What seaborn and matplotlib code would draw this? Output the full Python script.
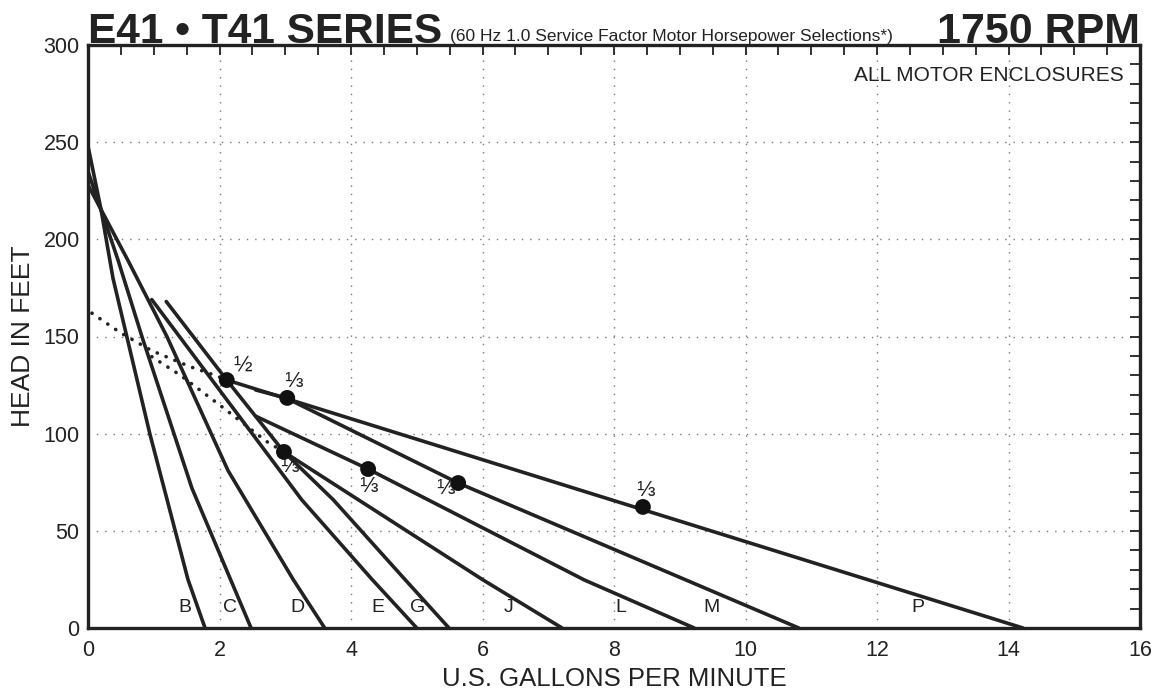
import matplotlib
matplotlib.use("Agg")
import matplotlib.pyplot as plt
from matplotlib.ticker import MultipleLocator
import seaborn as sns
import pandas as pd
import numpy as np

# pump curves (gpm, head in feet)
b_gpm = [0, 0.2, 0.38, 0.94, 1.52, 1.78]
b_head = [248, 215, 180, 100, 25, 0]
c_gpm = [0, 0.46, 0.82, 1.58, 2.48]
c_head = [235, 189, 150, 72, 0]
d_gpm = [0, 0.61, 1.2, 2.13, 3.12, 3.6]
d_head = [228, 189, 150, 81, 25, 0]
e_gpm = [0.97, 3.25, 4.32, 5.0]
e_head = [169, 66, 25, 0]
g_gpm = [1.19, 2.11, 2.98, 3.73, 4.82, 5.49]
g_head = [168, 127.6, 90.6, 66, 25, 0]
j_gpm = [2.98, 6.01, 7.21]
j_head = [90.6, 24.7, 0]
l_gpm = [2.55, 4.26, 7.55, 9.22]
l_head = [109, 81.8, 24.7, 0]
m_gpm = [2.55, 3.01, 5.63, 10.81]
m_head = [122.5, 118.4, 74.6, 0]
p_gpm = [2.11, 14.22]
p_head = [127.6, 0]

curve_names = ["B", "C", "D", "E", "G", "J", "L", "M", "P"]
curve_gpm = [b_gpm, c_gpm, d_gpm, e_gpm, g_gpm, j_gpm, l_gpm, m_gpm, p_gpm]
curve_head = [b_head, c_head, d_head, e_head, g_head, j_head, l_head, m_head, p_head]

# letter labels along the bottom
letter_x = [1.48, 2.16, 3.19, 4.41, 5.02, 6.4, 8.1, 9.49, 12.62]
letter_y = 10.8

# motor horsepower limit lines (dotted)
half_hp_gpm = [0.06, 0.49, 0.97, 1.55, 1.96, 2.11]
half_hp_head = [162, 152, 142.7, 134.5, 129.7, 127.6]
third_hp_gpm = [0.97, 1.4, 2.0, 2.72, 2.98]
third_hp_head = [139.6, 130.2, 114.8, 95.9, 90.6]

# horsepower change points
hp_gpm = [2.11, 3.03, 2.98, 4.26, 5.63, 8.44]
hp_head = [127.6, 118.4, 90.6, 81.8, 74.6, 62.3]
hp_text = ["½", "⅓", "⅓", "⅓", "⅓", "⅓"]
hp_text_x = [2.35, 3.12, 3.06, 4.26, 5.43, 8.47]
hp_text_y = [135, 127, 83, 73, 72, 71]

sns.set_style("white")
plt.rcParams["font.family"] = ["Liberation Sans", "DejaVu Sans"]

rows = []
for name, xs, ys in zip(curve_names, curve_gpm, curve_head):
    for i, (x, y) in enumerate(zip(xs, ys)):
        rows.append({"curve": name, "order": i, "gpm": x, "head": y})
curves = pd.DataFrame(rows)

limits = pd.DataFrame({
    "limit": ["half"] * len(half_hp_gpm) + ["third"] * len(third_hp_gpm),
    "gpm": half_hp_gpm + third_hp_gpm,
    "head": half_hp_head + third_hp_head,
})

fig = plt.figure(figsize=(11.63, 6.98), dpi=100)
ax = fig.add_axes([88 / 1163, 1 - 628 / 698, (1140 - 88) / 1163, (628 - 45) / 698])

sns.lineplot(data=limits, x="gpm", y="head", units="limit", estimator=None, sort=False,
             color="#222222", lw=2.6, ax=ax, linestyle=(0, (0.05, 2.6)),
             dash_capstyle="round", solid_capstyle="round")
sns.lineplot(data=curves, x="gpm", y="head", units="curve", estimator=None, sort=False,
             color="#222222", lw=2.6, ax=ax, solid_joinstyle="round")
sns.scatterplot(x=hp_gpm, y=hp_head, color="#111111", s=130, edgecolor="none", ax=ax, zorder=5)

for t, x, y in zip(hp_text, hp_text_x, hp_text_y):
    ax.text(x, y, t, fontsize=16, ha="center", va="center", color="#222222",
            family=["Liberation Sans", "DejaVu Sans"])
for t, x in zip(curve_names, letter_x):
    ax.text(x, letter_y, t, fontsize=14, ha="center", va="center", color="#222222")

ax.set_xlim(0, 16)
ax.set_ylim(0, 300)
ax.xaxis.set_major_locator(MultipleLocator(2))
ax.xaxis.set_minor_locator(MultipleLocator(0.5))
ax.yaxis.set_major_locator(MultipleLocator(50))
ax.yaxis.set_minor_locator(MultipleLocator(10))
ax.tick_params(which="both", direction="in", top=True, right=True, length=7, width=1.3,
               color="#222222")
ax.tick_params(axis="x", which="major", labelsize=15.5, pad=9, colors="#222222")
ax.tick_params(axis="y", which="major", labelsize=15.5, pad=6, colors="#222222")
ax.grid(True, which="major", color="#777777", linestyle=(0, (1, 5)), linewidth=1.0)
for s in ax.spines.values():
    s.set_linewidth(2.4)
    s.set_color("#222222")

ax.set_xlabel("U.S. GALLONS PER MINUTE", fontsize=18.5, color="#222222", labelpad=4)
ax.set_ylabel("HEAD IN FEET", fontsize=19, color="#222222", labelpad=6)

ax.text(0.985, 0.9485, "ALL MOTOR ENCLOSURES", transform=ax.transAxes, fontsize=15,
        ha="right", va="center", color="#222222")

fig.text(88 / 1163, 1 - 43 / 698, "E41 • T41 SERIES", fontsize=30.5, fontweight="bold",
         va="baseline", ha="left", color="#222222")
fig.text(450 / 1163, 1 - 41 / 698, "(60 Hz 1.0 Service Factor Motor Horsepower Selections*)",
         fontsize=12.5, va="baseline", ha="left", color="#222222")
fig.text(1140 / 1163, 1 - 43 / 698, "1750 RPM", fontsize=31, fontweight="bold",
         va="baseline", ha="right", color="#222222")

fig.savefig("out.png", dpi=100)
